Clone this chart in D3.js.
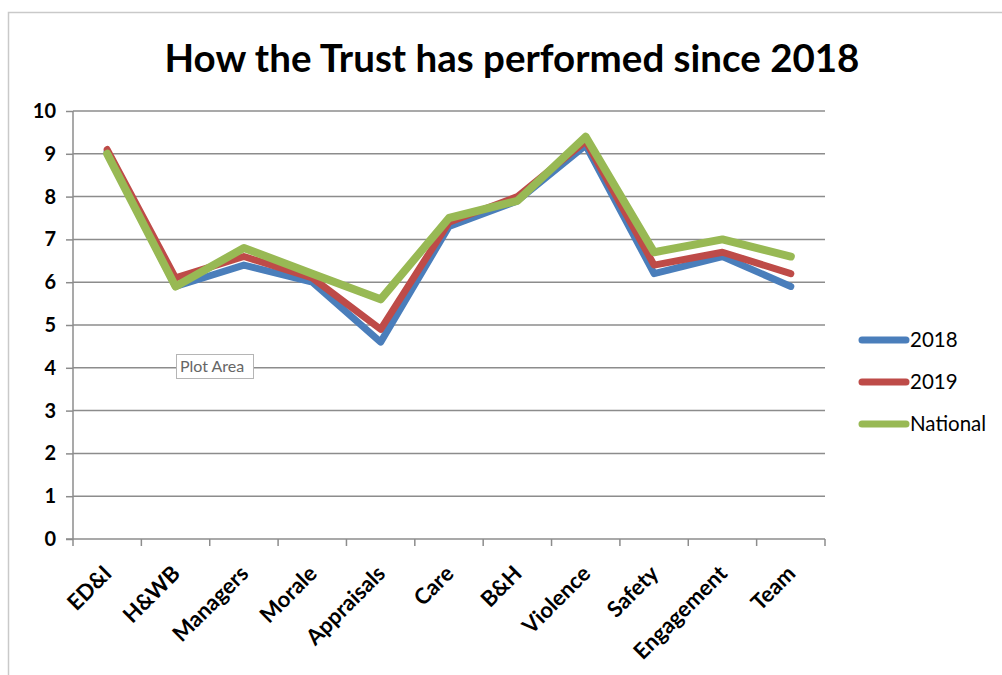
<!DOCTYPE html>
<html><head><meta charset="utf-8">
<script src="https://cdn.jsdelivr.net/npm/d3@7"></script>
<style>body{margin:0;background:#fff}svg{display:block}</style>
</head><body>
<svg id="c" width="1002" height="675"></svg>
<script>
const categories = ["ED&I","H&WB","Managers","Morale","Appraisals","Care","B&H","Violence","Safety","Engagement","Team"];
const s2018 = [9.05,5.9,6.4,6.0,4.6,7.3,7.9,9.2,6.2,6.6,5.9];
const s2019 = [9.1,6.1,6.6,6.1,4.9,7.4,8.0,9.3,6.4,6.7,6.2];
const sNational = [9.0,5.9,6.8,6.2,5.6,7.5,7.9,9.4,6.7,7.0,6.6];
const seriesNames = ["2018","2019","National"];
const yTicks = [0,1,2,3,4,5,6,7,8,9,10];

const colors = ["#4a7ebb","#be4b48","#98b954"];
const widths = [7,7,8];
const series = [s2018, s2019, sNational];
const font = "Lato, 'Open Sans', sans-serif";

const svg = d3.select("#c");
svg.append("rect").attr("x",8.5).attr("y",12.5).attr("width",1100).attr("height",700)
  .attr("fill","#fff").attr("stroke","#c9c9c9").attr("stroke-width",1.5);

svg.append("text").attr("x",512).attr("y",72).attr("text-anchor","middle")
  .attr("font-family",font).attr("font-weight","bold").attr("font-size",38.5)
  .attr("fill","#000").text("How the Trust has performed since 2018");

const L=73, R=825, T=111, B=539;
const x = d3.scaleBand().domain(categories).range([L,R]);
const y = d3.scaleLinear().domain([0,10]).range([B,T]);

svg.append("g").selectAll("line").data(yTicks.filter(d=>d>0)).join("line")
  .attr("x1",L).attr("x2",R).attr("y1",d=>y(d)).attr("y2",d=>y(d))
  .attr("stroke","#8c8c8c").attr("stroke-width",1.5);

const ya = svg.append("g").attr("transform",`translate(${L},0)`)
  .call(d3.axisLeft(y).tickValues(yTicks).tickSize(7).tickPadding(10).tickFormat(d3.format("d")));
ya.selectAll("path,line").attr("stroke","#8c8c8c").attr("stroke-width",1.5);
ya.select(".domain").attr("d",`M0,${T}V${B}`);
ya.selectAll("text").attr("font-family",font).attr("font-weight","bold").attr("font-size",20).attr("fill","#000");

const xa = svg.append("g").attr("transform",`translate(0,${B})`);
xa.append("line").attr("x1",L-7).attr("x2",R).attr("y1",0).attr("y2",0).attr("stroke","#8c8c8c").attr("stroke-width",1.5);
const bounds = categories.map(c=>x(c)).concat([R]);
xa.selectAll("line.t").data(bounds).join("line").attr("class","t")
  .attr("x1",d=>d).attr("x2",d=>d).attr("y1",0).attr("y2",7)
  .attr("stroke","#8c8c8c").attr("stroke-width",1.5);
xa.selectAll("text").data(categories).join("text")
  .attr("transform",d=>`translate(${x(d)+x.bandwidth()/2+6},${36}) rotate(-45)`)
  .attr("text-anchor","end").attr("font-family",font).attr("font-weight","bold")
  .attr("font-size",22).attr("fill","#000").text(d=>d);

const line = d3.line().x((d,i)=>x(categories[i])+x.bandwidth()/2).y(d=>y(d));
series.forEach((s,k)=>{
  svg.append("path").datum(s).attr("d",line).attr("fill","none")
    .attr("stroke",colors[k]).attr("stroke-width",widths[k])
    .attr("stroke-linejoin","round").attr("stroke-linecap","round");
});

const lg = svg.append("g");
seriesNames.forEach((n,k)=>{
  const yy = 340 + k*42;
  lg.append("line").attr("x1",862).attr("x2",906).attr("y1",yy).attr("y2",yy)
    .attr("stroke",colors[k]).attr("stroke-width",7).attr("stroke-linecap","round");
  lg.append("text").attr("x",910).attr("y",yy+7).attr("font-family",font).attr("font-size",20.5)
    .attr("fill","#000").text(n);
});

svg.append("rect").attr("x",176.5).attr("y",354.5).attr("width",77).attr("height",24)
  .attr("fill","#fff").attr("stroke","#b5b5b5");
svg.append("text").attr("x",180).attr("y",372).attr("font-family",font).attr("font-size",16)
  .attr("fill","#666").text("Plot Area");
</script>
</body></html>
